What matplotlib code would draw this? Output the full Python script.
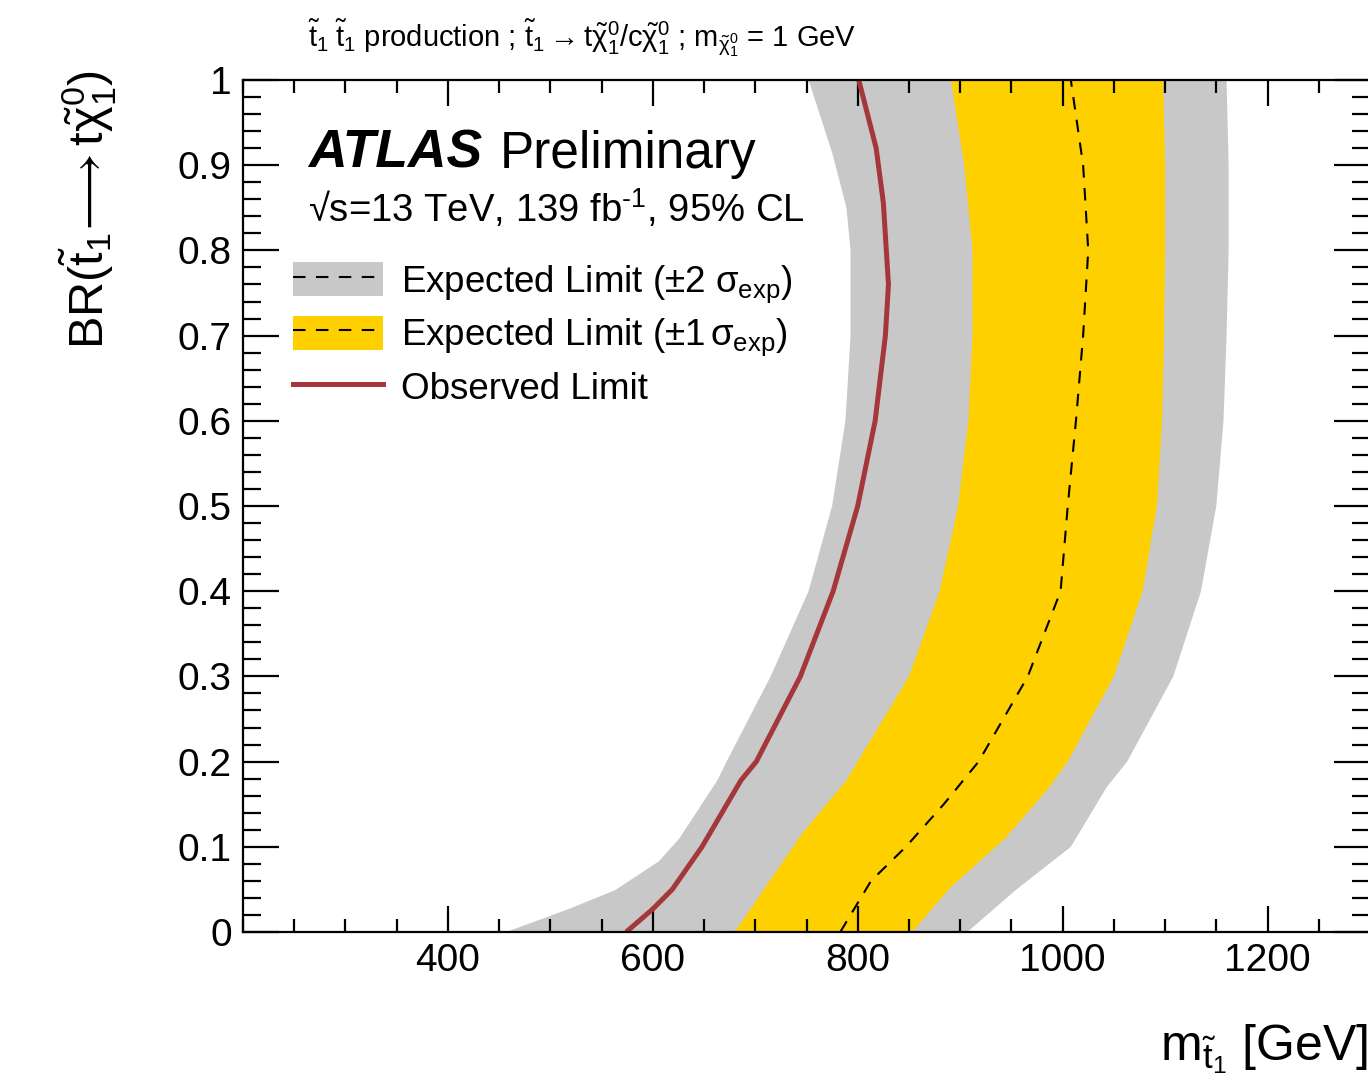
import numpy as np
import matplotlib
matplotlib.use('Agg')
import matplotlib.pyplot as plt
from matplotlib.ticker import MultipleLocator, FixedLocator, FuncFormatter
from matplotlib.patches import Patch
from matplotlib.lines import Line2D
from matplotlib.legend_handler import HandlerTuple

plt.rcParams['font.family'] = ['Liberation Sans', 'DejaVu Sans']
plt.rcParams['mathtext.fontset'] = 'custom'
plt.rcParams['mathtext.rm'] = 'Liberation Sans'
plt.rcParams['mathtext.it'] = 'Liberation Sans'
plt.rcParams['mathtext.bf'] = 'Liberation Sans:bold'
plt.rcParams['mathtext.sf'] = 'Liberation Sans'

# -2 sigma expected (left edge of grey band)
br_m2 = [0, 0.027, 0.049, 0.083, 0.11, 0.178, 0.2, 0.3, 0.4, 0.5, 0.6, 0.7, 0.8, 0.85, 0.915, 1.0]
mst_m2 = [457, 518, 563, 606, 626, 663, 672, 715, 752, 775, 788, 793, 793, 789, 775, 752]
# -1 sigma expected (left edge of yellow band)
br_m1 = [0, 0.116, 0.178, 0.2, 0.3, 0.4, 0.5, 0.6, 0.7, 0.8, 0.9, 1.0]
mst_m1 = [680, 746, 789, 800, 850, 880, 898, 908, 912, 912, 904, 891]
# expected limit
br_exp = [0, 0.03, 0.06, 0.1, 0.15, 0.2, 0.3, 0.4, 0.5, 0.6, 0.7, 0.8, 0.9, 1.0]
mst_exp = [783, 798, 813, 847, 884, 918, 966, 998, 1005, 1013, 1020, 1025, 1020, 1008]
# +1 sigma expected (right edge of yellow band)
br_p1 = [0, 0.054, 0.11, 0.167, 0.2, 0.3, 0.4, 0.5, 0.6, 0.7, 0.8, 0.9, 1.0]
mst_p1 = [853, 892, 944, 985, 1005, 1050, 1078, 1092, 1097, 1099, 1100, 1100, 1098]
# +2 sigma expected (right edge of grey band)
br_p2 = [0, 0.05, 0.1, 0.17, 0.2, 0.3, 0.4, 0.5, 0.6, 0.7, 0.8, 0.9, 1.0]
mst_p2 = [907, 955, 1008, 1043, 1063, 1108, 1135, 1150, 1157, 1160, 1162, 1162, 1160]
# observed limit
br_obs = [0, 0.027, 0.05, 0.1, 0.178, 0.2, 0.3, 0.4, 0.5, 0.6, 0.7, 0.76, 0.856, 0.92, 1.0]
mst_obs = [574, 600, 619, 648, 686, 701, 744, 776, 800, 817, 827, 830, 825, 818, 801]

x_ticks = [400, 600, 800, 1000, 1200]

grey = '#c8c8c8'
yellow = '#ffd000'
red = '#a5373b'

fig = plt.figure(figsize=(13.68, 10.86), dpi=100)
ax = fig.add_axes([243/1368, 1-932/1086, 1127/1368, 852/1086])

ax.fill(np.r_[mst_m2, mst_p2[::-1]], np.r_[br_m2, br_p2[::-1]], color=grey, lw=0)
ax.fill(np.r_[mst_m1, mst_p1[::-1]], np.r_[br_m1, br_p1[::-1]], color=yellow, lw=0)
ax.plot(mst_exp, br_exp, color='k', lw=1.5, ls='--', dashes=(6, 5))
ax.plot(mst_obs, br_obs, color=red, lw=3.6, solid_capstyle='butt')

ax.set_xlim(200, 1300)
ax.set_ylim(0, 1)
ax.xaxis.set_major_locator(FixedLocator(x_ticks))
ax.xaxis.set_minor_locator(MultipleLocator(50))
ax.yaxis.set_major_locator(MultipleLocator(0.1))
ax.yaxis.set_minor_locator(MultipleLocator(0.02))
ax.yaxis.set_major_formatter(FuncFormatter(lambda v, p: f'{v:g}'))

ax.tick_params(which='both', direction='in', top=True, right=True, width=1.6)
ax.tick_params(axis='x', which='major', length=18.7, labelsize=28, pad=8)
ax.tick_params(axis='x', which='minor', length=9.7)
ax.tick_params(axis='y', which='major', length=26, labelsize=28, pad=8)
ax.tick_params(axis='y', which='minor', length=13)
for s in ax.spines.values():
    s.set_linewidth(1.6)

h2 = (Patch(facecolor=grey, edgecolor='none'),
      Line2D([], [], color='k', lw=1.5, ls='--', dashes=(6, 5)))
h1 = (Patch(facecolor=yellow, edgecolor='none'),
      Line2D([], [], color='k', lw=1.5, ls='--', dashes=(6, 5)))
hobs = Line2D([], [], color=red, lw=3.6)
ax.legend([h2, h1, hobs],
          [r'Expected Limit ($\pm$2 $\sigma_{\rm exp}$)',
           r'Expected Limit ($\pm$1$\,\sigma_{\rm exp}$)',
           'Observed Limit'],
          handler_map={tuple: HandlerTuple(ndivide=1, pad=0)},
          frameon=False, loc='upper left', bbox_to_anchor=(293/1368, 1-262/1086),
          bbox_transform=fig.transFigure, fontsize=26.5, handlelength=2.45,
          handleheight=1.05, handletextpad=0.48, labelspacing=0.3,
          borderpad=0, borderaxespad=0)

fig.text(308/1368, 1-168/1086, 'ATLAS', fontsize=38.5, fontweight='bold', style='italic')
fig.text(500/1368, 1-168/1086, 'Preliminary', fontsize=37)
fig.text(308/1368, 1-222/1086, '\u221as=13 TeV, 139 fb$^{\\text{-1}}$, 95% CL', fontsize=27.5)

fig.text(308/1368, 1-47/1086,
         r'$\tilde{\rm t}_1\;\tilde{\rm t}_1$ production ; $\tilde{\rm t}_1\rightarrow{\rm t}\tilde{\chi}^0_1/{\rm c}\tilde{\chi}^0_1$ ; m$_{\tilde{\chi}^0_1}$ = 1 GeV',
         fontsize=21)

fig.text(88/1368, 1-70/1086, r'BR($\tilde{\rm t}_1\!\longrightarrow {\rm t}\tilde{\chi}^0_1$)',
         rotation=90, ha='center', va='top', fontsize=35)
fig.text(1.0, 1-1060/1086, r'm$_{\tilde{\rm t}_1}$ [GeV]', ha='right', fontsize=36)

fig.savefig('out.png', dpi=100)
